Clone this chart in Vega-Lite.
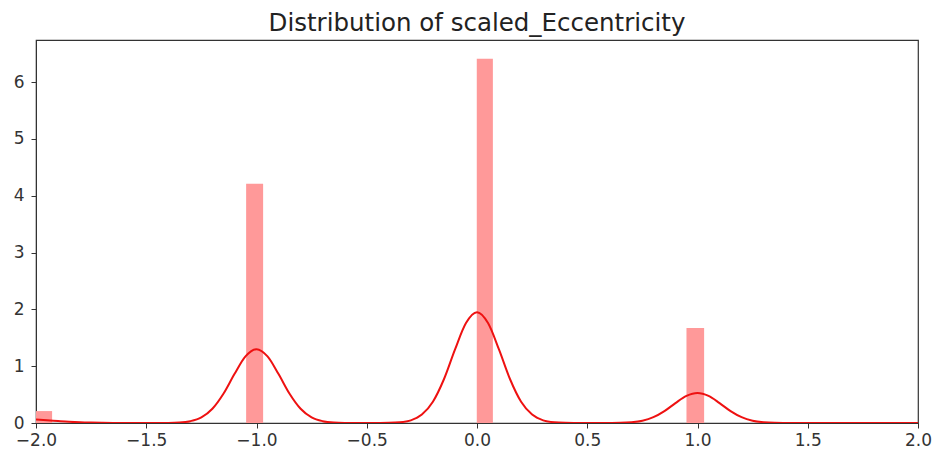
{
  "$schema": "https://vega.github.io/schema/vega-lite/v6.json",
  "width": 882,
  "height": 383,
  "autosize": {"type": "none"},
  "padding": {"left": 36, "top": 40, "right": 20, "bottom": 42},
  "title": {"text": "Distribution of scaled_Eccentricity", "fontSize": 24.5, "fontWeight": "normal", "font": "DejaVu Sans", "color": "#222", "offset": 4},
  "config": {
    "view": {"stroke": "#333", "strokeWidth": 1.2},
    "axis": {"domainColor": "#333", "tickColor": "#333", "labelColor": "#333", "labelFont": "DejaVu Sans", "labelFontSize": 17, "grid": false, "title": null, "tickSize": 5, "labelPadding": 6}
  },
  "datasets": {
    "bars": [
      {"x0": -2.0, "x1": -1.927, "h": 0.21, "b": 0},
      {"x0": -1.047, "x1": -0.97, "h": 4.21, "b": 0},
      {"x0": -0.001, "x1": 0.072, "h": 6.41, "b": 0},
      {"x0": 0.95, "x1": 1.03, "h": 1.67, "b": 0}
    ],
    "kde": [
      {"x": -2.00, "y": 0.060}, {"x": -1.95, "y": 0.048}, {"x": -1.90, "y": 0.034}, {"x": -1.85, "y": 0.021},
      {"x": -1.80, "y": 0.012}, {"x": -1.75, "y": 0.007}, {"x": -1.70, "y": 0.004}, {"x": -1.65, "y": 0.002},
      {"x": -1.60, "y": 0.001}, {"x": -1.55, "y": 0.001}, {"x": -1.50, "y": 0.001}, {"x": -1.45, "y": 0.001},
      {"x": -1.40, "y": 0.002}, {"x": -1.35, "y": 0.008}, {"x": -1.30, "y": 0.032}, {"x": -1.25, "y": 0.098},
      {"x": -1.20, "y": 0.250}, {"x": -1.15, "y": 0.514}, {"x": -1.10, "y": 0.861}, {"x": -1.05, "y": 1.173},
      {"x": -1.00, "y": 1.300}, {"x": -0.95, "y": 1.173}, {"x": -0.90, "y": 0.861}, {"x": -0.85, "y": 0.514},
      {"x": -0.80, "y": 0.250}, {"x": -0.75, "y": 0.098}, {"x": -0.70, "y": 0.032}, {"x": -0.65, "y": 0.008},
      {"x": -0.60, "y": 0.002}, {"x": -0.55, "y": 0.001}, {"x": -0.50, "y": 0.000}, {"x": -0.45, "y": 0.001},
      {"x": -0.40, "y": 0.003}, {"x": -0.35, "y": 0.012}, {"x": -0.30, "y": 0.047}, {"x": -0.25, "y": 0.148},
      {"x": -0.20, "y": 0.374}, {"x": -0.15, "y": 0.770}, {"x": -0.10, "y": 1.291}, {"x": -0.05, "y": 1.759},
      {"x": 0.00, "y": 1.950}, {"x": 0.05, "y": 1.759}, {"x": 0.10, "y": 1.291}, {"x": 0.15, "y": 0.770},
      {"x": 0.20, "y": 0.374}, {"x": 0.25, "y": 0.148}, {"x": 0.30, "y": 0.047}, {"x": 0.35, "y": 0.012},
      {"x": 0.40, "y": 0.003}, {"x": 0.45, "y": 0.001}, {"x": 0.50, "y": 0.000}, {"x": 0.55, "y": 0.000},
      {"x": 0.60, "y": 0.001}, {"x": 0.65, "y": 0.003}, {"x": 0.70, "y": 0.013}, {"x": 0.75, "y": 0.040},
      {"x": 0.80, "y": 0.102}, {"x": 0.85, "y": 0.209}, {"x": 0.90, "y": 0.351}, {"x": 0.95, "y": 0.478},
      {"x": 1.00, "y": 0.530}, {"x": 1.05, "y": 0.478}, {"x": 1.10, "y": 0.351}, {"x": 1.15, "y": 0.209},
      {"x": 1.20, "y": 0.102}, {"x": 1.25, "y": 0.040}, {"x": 1.30, "y": 0.013}, {"x": 1.35, "y": 0.003},
      {"x": 1.40, "y": 0.001}, {"x": 1.45, "y": 0.000}, {"x": 1.50, "y": 0.000}, {"x": 1.55, "y": 0.000},
      {"x": 1.60, "y": 0.000}, {"x": 1.65, "y": 0.000}, {"x": 1.70, "y": 0.000}, {"x": 1.75, "y": 0.000},
      {"x": 1.80, "y": 0.000}, {"x": 1.85, "y": 0.000}, {"x": 1.90, "y": 0.000}, {"x": 1.95, "y": 0.000},
      {"x": 2.00, "y": 0.000}
    ]
  },
  "layer": [
    {
      "data": {"name": "bars"},
      "mark": {"type": "rect", "color": "#ff9999", "clip": true},
      "encoding": {
        "x": {"field": "x0", "type": "quantitative", "scale": {"domain": [-2, 2], "nice": false}, "axis": {"values": [-2, -1.5, -1, -0.5, 0, 0.5, 1, 1.5, 2], "format": ".1f", "labelFlush": false, "labelPadding": 4}},
        "x2": {"field": "x1"},
        "y": {"field": "h", "type": "quantitative", "scale": {"domain": [0, 6.74], "nice": false}, "axis": {"values": [0, 1, 2, 3, 4, 5, 6], "format": "d", "labelPadding": 7}},
        "y2": {"field": "b"}
      }
    },
    {
      "data": {"name": "kde"},
      "mark": {"type": "line", "color": "#ee1111", "strokeWidth": 2, "interpolate": "monotone", "clip": true},
      "encoding": {
        "x": {"field": "x", "type": "quantitative"},
        "y": {"field": "y", "type": "quantitative"}
      }
    }
  ]
}
